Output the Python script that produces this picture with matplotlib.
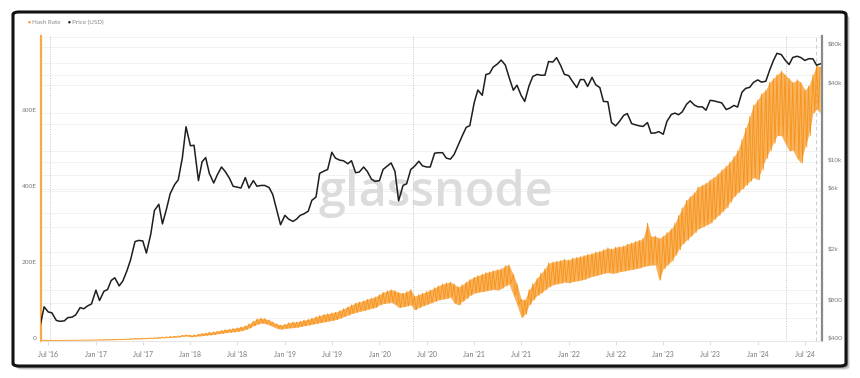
import numpy as np
import pandas as pd
import matplotlib
matplotlib.use("Agg")
import matplotlib.pyplot as plt
import matplotlib.dates as mdates
import matplotlib.transforms as mtransforms
from matplotlib.patches import FancyBboxPatch
from matplotlib.ticker import NullLocator

plt.rcParams["font.family"] = ["Lato", "DejaVu Sans"]

# semi-monthly sample dates (1st / 15th), last point end of Aug 2024
dates = pd.date_range("2016-06-01", "2024-08-15", freq="SMS").append(pd.DatetimeIndex(["2024-08-29"]))

# BTC price (USD)
price = [
    540, 740, 675, 665, 580, 570, 575, 610, 615, 640, 730, 715, 755, 780,
    1000, 830, 980, 1010, 1190, 1250, 1080, 1180, 1420, 1730, 2400, 2450,
    2430, 1950, 2750, 4200, 4700, 3300, 4350, 5700, 6700, 7300, 10900, 19000,
    13500, 13600, 7200, 10100, 10900, 8200, 6900, 8000, 9200, 8500, 7500, 6500,
    6400, 6300, 7600, 6300, 7200, 6500, 6600, 6600, 6350, 5600, 4200, 3250,
    3850, 3600, 3450, 3600, 3850, 3950, 4150, 5050, 5350, 8200, 8550, 8800,
    12000, 10800, 10400, 10300, 9750, 10300, 8300, 8400, 9200, 8500, 7400, 7100,
    7200, 8800, 9400, 9900, 8500, 5000, 6600, 6800, 8800, 9300, 10200, 9400,
    9200, 9200, 11800, 11900, 11900, 10800, 10600, 11500, 13800, 16000, 18800, 19400,
    29400, 36800, 33500, 48700, 49600, 55600, 59000, 63200, 57800, 46700, 36700, 40200,
    33500, 30000, 39900, 47000, 48800, 48100, 48100, 61500, 61000, 66000, 57200, 48900,
    47700, 43100, 38500, 44500, 44400, 39300, 46300, 40500, 38500, 30000, 29800, 20500,
    19300, 20800, 23300, 24100, 20100, 19700, 19300, 19100, 20500, 16900, 17000, 17400,
    16600, 20900, 23700, 24300, 23600, 24800, 28500, 30300, 28100, 27200, 27200, 25600,
    30600, 30300, 29700, 29200, 25900, 26600, 27900, 27100, 35400, 37900, 38700, 42200,
    44200, 42500, 43100, 52100, 62400, 71400, 69700, 63400, 58300, 66200, 67700, 66200,
    62700, 64700, 64600, 57600, 59000,
]

# hash rate (EH/s): upper and lower edge of the noisy daily band
hash_high = [
    1.6, 1.7, 1.7, 1.6, 1.7, 1.8, 1.9, 2.0, 2.1, 2.2, 2.3, 2.4, 2.6, 2.8,
    3.0, 3.3, 3.6, 3.8, 4.0, 4.3, 4.6, 4.9, 5.4, 6.0, 6.5, 7.0,
    7.4, 7.8, 8.0, 8.6, 9.5, 10.5, 11, 12, 12.5, 13.5, 15, 16.5,
    15, 16, 18, 20, 21, 23, 24, 26, 28, 30, 31, 33,
    35, 37, 40, 45, 52, 58, 60, 59, 55, 50, 45, 42,
    44, 48, 50, 50, 52, 55, 57, 60, 64, 67, 70, 72,
    74, 76, 80, 85, 90, 95, 100, 103, 106, 110, 113, 116,
    122, 128, 132, 135, 132, 128, 126, 130, 135, 118, 122, 126,
    130, 134, 140, 145, 150, 153, 155, 150, 142, 148, 155, 162,
    168, 172, 176, 180, 182, 185, 188, 190, 198, 200, 175, 150,
    110, 108, 135, 150, 165, 178, 190, 205, 208, 210, 212, 215,
    213, 218, 220, 222, 225, 228, 230, 234, 236, 240, 245, 242,
    247, 248, 250, 255, 258, 262, 265, 270, 310, 275, 276, 270,
    276, 285, 295, 310, 330, 350, 370, 380, 390, 405, 410, 415,
    424, 430, 440, 450, 460, 470, 485, 500, 530, 560, 590, 620,
    634, 650, 660, 680, 690, 700, 710, 700, 690, 680, 687, 680,
    660, 670, 700, 726, 720,
]
hash_low = [
    1.3, 1.4, 1.4, 1.4, 1.5, 1.5, 1.6, 1.7, 1.8, 1.8, 1.9, 2.0, 2.1, 2.3,
    2.4, 2.6, 2.9, 3.0, 3.2, 3.4, 3.7, 3.9, 4.3, 4.8, 5.2, 5.6,
    5.9, 6.2, 6.4, 6.9, 7.6, 8.4, 8.8, 9.6, 10, 10.8, 12, 13.2,
    11, 12, 13, 14, 15, 16, 17, 19, 20, 22, 23, 24,
    25, 27, 30, 34, 40, 44, 47, 46, 42, 38, 33, 31,
    33, 34, 35, 36, 38, 40, 42, 44, 46, 48, 50, 52,
    54, 56, 60, 64, 68, 72, 75, 78, 80, 83, 86, 88,
    95, 98, 100, 102, 96, 88, 90, 92, 95, 82, 88, 92,
    96, 100, 104, 108, 110, 112, 115, 100, 95, 104, 112, 120,
    126, 128, 130, 132, 134, 136, 134, 138, 145, 150, 120, 95,
    62, 70, 95, 108, 120, 126, 135, 142, 148, 150, 152, 155,
    153, 156, 158, 160, 162, 166, 170, 172, 175, 178, 180, 178,
    179, 182, 184, 186, 188, 190, 192, 196, 198, 200, 200, 160,
    190, 200, 210, 225, 240, 255, 265, 275, 285, 295, 300, 305,
    310, 320, 330, 340, 350, 365, 380, 390, 400, 410, 420, 430,
    424, 450, 480, 500, 520, 540, 540, 520, 500, 502, 480, 468,
    510, 540, 600, 610, 600,
]

halvings = ["2016-07-09", "2020-05-11", "2024-04-20"]
price_ticks = [400, 800, 2000, 6000, 10000, 40000, 80000]
price_labels = ["$400", "$800", "$2k", "$6k", "$10k", "$40k", "$80k"]
price_grid = [600, 800, 1000, 2000, 4000, 6000, 8000, 10000, 20000, 40000, 60000, 80000]
hash_ticks = [0, 200, 400, 600]
hash_labels = ["0", "200E", "400E", "600E"]

ORANGE = "#f7931a"
W, H = 860, 378

fig = plt.figure(figsize=(W / 100, H / 100), dpi=100)
fig.patch.set_facecolor("white")

# card with shadow
for off, a in [(4, 0.15), (3, 0.25), (2, 0.35)]:
    sh = FancyBboxPatch((13 / W + off / W, 1 - 366 / H - off / H), 833 / W, 354 / H,
                        boxstyle="round,pad=0,rounding_size=0.007", transform=fig.transFigure,
                        fc="#555555", ec="none", alpha=a, zorder=-3)
    fig.add_artist(sh)
card = FancyBboxPatch((13 / W, 1 - 366 / H), 833 / W, 354 / H,
                      boxstyle="round,pad=0,rounding_size=0.007", transform=fig.transFigure,
                      fc="white", ec="#111111", lw=2.2, zorder=-2)
fig.add_artist(card)

# hash rate on the base axes (left), price on the twin (right, log) so it sits on top
ax = fig.add_axes([41 / W, 1 - 341 / H, (822 - 41) / W, (341 - 36) / H])
ax.set_facecolor("none")
ax2 = ax.twinx()

ax2.set_yscale("log")
ax2.set_ylim(400, 97500)
ax2.set_yticks(price_ticks)
ax2.set_yticklabels(price_labels)
ax2.yaxis.set_minor_locator(NullLocator())
ax2.tick_params(axis="y", length=0, pad=4, labelsize=4.6, labelcolor="#777777")
for lab in ax2.get_yticklabels():
    lab.set_va("bottom")

ax.set_ylim(0, 802)
ax.set_yticks(hash_ticks)
ax.set_yticklabels(hash_labels)
ax.tick_params(axis="y", length=0, pad=3, labelsize=4.6, labelcolor="#777777")
for lab in ax.get_yticklabels():
    lab.set_va("bottom")

# grid lines, all on the bottom axes
for g in range(0, 801, 100):
    ax.axhline(g, color="#f0f0f0", lw=0.6, zorder=0)
price_tr = mtransforms.blended_transform_factory(ax.transAxes, ax2.transData)
for g in price_grid:
    ax.plot([0, 1], [g, g], transform=price_tr, color="#f0f0f0", lw=0.6, zorder=0)

ax.text(0.505, 0.485, "glassnode", transform=ax.transAxes, ha="center", va="center",
        fontsize=35, fontweight="semibold", color="#dcdcdc",
        family=["Open Sans", "DejaVu Sans"], zorder=0)

for d in halvings:
    ax.axvline(pd.Timestamp(d), color="#c4c4c4", lw=0.7, ls=(0, (1, 1.5)), zorder=1)
ax.axvline(pd.Timestamp("2024-08-12"), color="#cccccc", lw=0.7, ls=(0, (4, 3)), zorder=1)

# hash rate band: fill between the edges plus a zigzag through them
zz_t = np.empty(2 * len(dates), dtype="datetime64[ns]")
zz_t[0::2] = dates.values
zz_t[1::2] = (dates + pd.Timedelta(days=7)).values
zz_v = np.empty(2 * len(dates))
zz_v[0::2] = hash_high
zz_v[1::2] = hash_low
ax.fill_between(dates, hash_low, hash_high, color=ORANGE, alpha=0.7, lw=0, zorder=2)
ax.plot(zz_t[:-1], zz_v[:-1], color=ORANGE, lw=0.6, zorder=2)

ax2.plot(dates, price, color="#1e1e1e", lw=1.1, zorder=3)

# x axis
ax.set_xlim(pd.Timestamp("2016-06-03"), pd.Timestamp("2024-09-05"))
ax.xaxis.set_major_locator(mdates.MonthLocator(bymonth=[1, 7]))
ax.xaxis.set_major_formatter(mdates.DateFormatter("%b '%y"))
ax.tick_params(axis="x", length=3, color="#e0e0e0", pad=4, labelsize=5, labelcolor="#777777")

for a in (ax, ax2):
    for s in ("top", "left", "right"):
        a.spines[s].set_visible(False)
    a.spines["bottom"].set_color("#e6e6e6")
    a.spines["bottom"].set_linewidth(0.6)
ax.spines["left"].set_visible(True)
ax.spines["left"].set_color("#f9a846")
ax.spines["left"].set_linewidth(1.6)
ax2.spines["right"].set_visible(True)
ax2.spines["right"].set_color("#8a8a8a")
ax2.spines["right"].set_linewidth(1.6)

# legend
fig.text(28 / W, 1 - 22 / H, "\u25cf", color=ORANGE, fontsize=3.5, va="center")
fig.text(32 / W, 1 - 22 / H, "Hash Rate", color="#888888", fontsize=4.5, va="center")
fig.text(68 / W, 1 - 22 / H, "\u25cf", color="#111111", fontsize=3.5, va="center")
fig.text(72 / W, 1 - 22 / H, "Price (USD)", color="#888888", fontsize=4.5, va="center")

fig.savefig("out.png", dpi=100)
